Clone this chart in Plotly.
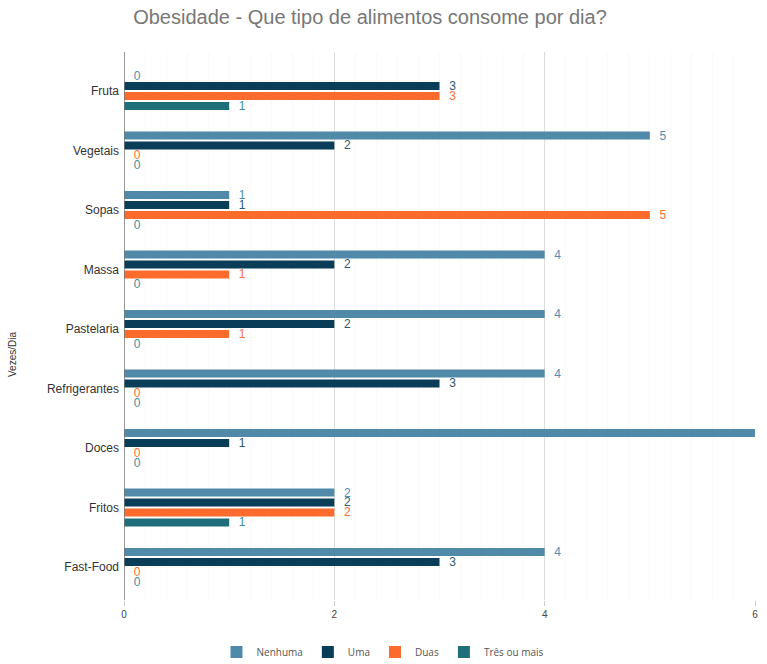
import plotly.graph_objects as go

# Food categories (top to bottom) and how many people eat them per day
categories = ["Fruta", "Vegetais", "Sopas", "Massa", "Pastelaria",
              "Refrigerantes", "Doces", "Fritos", "Fast-Food"]

series_names = ["Nenhuma", "Uma", "Duas", "Três ou mais"]
nenhuma = [0, 5, 1, 4, 4, 4, 6, 2, 4]
uma = [3, 2, 1, 2, 2, 3, 1, 2, 3]
duas = [3, 0, 5, 1, 1, 0, 0, 2, 0]
tres_ou_mais = [1, 0, 0, 0, 0, 0, 0, 1, 0]

x_ticks = [0, 2, 4, 6]

colors = ["#5189a9", "#0a3d57", "#fb6b2c", "#1e6f7a"]
label_colors = ["#4f8db3", "#2f5870", "#fb6f33", "#3a8fa2"]

series_values = [nenhuma, uma, duas, tres_ou_mais]
x_max = 6

fig = go.Figure()
for name, vals, col, lcol in zip(series_names, series_values, colors, label_colors):
    # hide the label of a bar that fills the whole axis
    texts = ["\u00a0\u00a0" + str(v) if v < x_max else "" for v in vals]
    fig.add_trace(go.Bar(
        name=name,
        y=categories,
        x=vals,
        orientation="h",
        marker=dict(color=col, line=dict(width=0)),
        text=texts,
        texttemplate="%{text}",
        textposition="outside",
        outsidetextfont=dict(color=lcol, size=12, family="Liberation Sans, Arial"),
        cliponaxis=False,
    ))

fig.update_layout(
    width=767,
    height=664,
    margin=dict(l=124, r=12, t=52, b=64, autoexpand=False),
    paper_bgcolor="white",
    plot_bgcolor="white",
    barmode="group",
    bargap=0.33,
    bargroupgap=0.2,
    title=dict(
        text="Obesidade - Que tipo de alimentos consome por dia?",
        x=370 / 767, xanchor="center",
        y=1 - 17 / 664, yanchor="middle",
        font=dict(family="Liberation Sans, Arial", size=20, color="#777777"),
    ),
    legend=dict(
        orientation="h",
        x=(383 - 124) / 631, xanchor="center",
        y=-(652 - 600) / 548, yanchor="middle",
        font=dict(family="Open Sans, Arial", size=10, color="#555555"),
        itemwidth=30,
        traceorder="normal",
    ),
    uniformtext=dict(minsize=8, mode="show"),
    font=dict(family="Liberation Sans, Arial"),
)

fig.update_xaxes(
    range=[0, x_max],
    tickvals=x_ticks,
    ticktext=[str(t) for t in x_ticks],
    showgrid=True,
    gridcolor="#dcdcdc",
    gridwidth=1,
    zeroline=False,
    showline=False,
    ticks="outside",
    ticklen=5,
    tickcolor="#cccccc",
    tickfont=dict(size=10, color="#444444"),
    minor=dict(dtick=0.2, showgrid=True, gridcolor="#fafafa", gridwidth=1),
)

fig.update_yaxes(
    range=[8.555, -0.655],
    showgrid=False,
    zeroline=False,
    showline=False,
    ticks="",
    tickfont=dict(size=12, color="#333333"),
    ticklabelstandoff=4,
)

# y axis title placed at the far left edge
fig.add_annotation(
    text="Vezes/Dia", textangle=-90,
    xref="paper", yref="paper",
    x=(12 - 124) / 631, y=(600 - 355) / 548,
    xanchor="center", yanchor="middle",
    showarrow=False,
    font=dict(size=10, color="#333333"),
)

# left axis line drawn from the zero value
fig.add_shape(type="line", xref="x", yref="paper", x0=0, x1=0, y0=0, y1=1,
              line=dict(color="#777777", width=1.5))

fig.write_html("out.html")
